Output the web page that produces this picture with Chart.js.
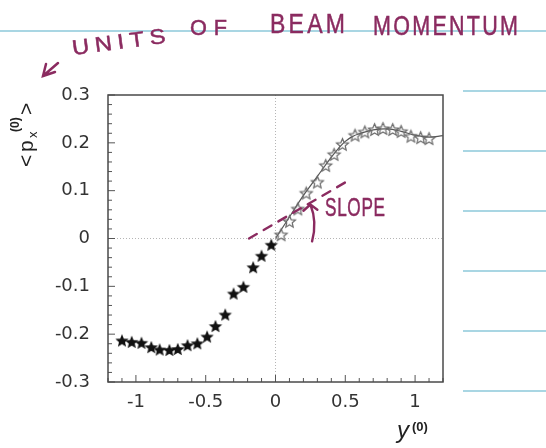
<!DOCTYPE html>
<html>
<head>
<meta charset="utf-8">
<script src="https://cdn.jsdelivr.net/npm/chart.js@4.4.1/dist/chart.umd.min.js"></script>
<style>
  html, body { margin: 0; padding: 0; background: #fff; }
</style>
</head>
<body>
<canvas id="momChart" width="546" height="448"></canvas>
<script>
// filled stars (negative side)
const negX = [-1.1, -1.03, -0.96, -0.89, -0.83, -0.76, -0.7, -0.63, -0.56, -0.49, -0.43, -0.36, -0.3, -0.23, -0.16, -0.1, -0.03];
const negY = [-0.213, -0.216, -0.218, -0.227, -0.232, -0.233, -0.231, -0.223, -0.219, -0.205, -0.183, -0.159, -0.115, -0.101, -0.06, -0.036, -0.013];
// open stars (positive side)
const posX = [0.04, 0.1, 0.16, 0.22, 0.3, 0.36, 0.42, 0.48, 0.57, 0.64, 0.71, 0.77, 0.84, 0.9, 0.97, 1.04, 1.1];
const posY = [0.008, 0.036, 0.062, 0.095, 0.118, 0.153, 0.176, 0.197, 0.216, 0.223, 0.228, 0.23, 0.228, 0.224, 0.214, 0.211, 0.209];
// solid curve through the open stars
const fitX = [0, 0.1, 0.2, 0.3, 0.4, 0.45, 0.5, 0.55, 0.6, 0.7, 0.8, 0.9, 1.0, 1.1, 1.2];
const fitY = [0, 0.045, 0.09, 0.13, 0.17, 0.188, 0.203, 0.213, 0.219, 0.227, 0.229, 0.224, 0.216, 0.212, 0.215];

const xTicks = [-1, -0.5, 0, 0.5, 1];
const yTicks = [-0.3, -0.2, -0.1, 0, 0.1, 0.2, 0.3];

const PURPLE = '#8b2b60';
const BLUE = '#a9d6e3';

function starCanvas(r, fill, stroke) {
  const s = Math.ceil(r * 2 + 4);
  const c = document.createElement('canvas');
  c.width = s; c.height = s;
  const g = c.getContext('2d');
  g.translate(s / 2, s / 2 + r * 0.1);
  g.beginPath();
  for (let i = 0; i < 10; i++) {
    const rr = i % 2 ? r * 0.45 : r;
    const a = -Math.PI / 2 + i * Math.PI / 5;
    g.lineTo(rr * Math.cos(a), rr * Math.sin(a));
  }
  g.closePath();
  if (fill) { g.fillStyle = fill; g.fill(); }
  if (stroke) { g.strokeStyle = stroke; g.lineWidth = 1.2; g.stroke(); }
  return c;
}

const filledStar = starCanvas(7, '#111', null);
const openStar = starCanvas(6.3, null, '#6a6a6a');

// hand-lettered word, squeezed or stretched to a given width
function word(ctx, text, x, y, w, size, spacing, angle) {
  ctx.save();
  ctx.translate(x, y);
  if (angle) ctx.rotate(angle);
  ctx.font = size + 'px "Liberation Sans", sans-serif';
  ctx.letterSpacing = spacing + 'px';
  const m = ctx.measureText(text).width - spacing;
  ctx.scale(w / m, 1);
  ctx.lineWidth = 0.5;
  ctx.fillText(text, 0, 0);
  ctx.strokeText(text, 0, 0);
  ctx.restore();
}

const framePlugin = {
  id: 'frame',
  beforeDraw(chart) {
    const ctx = chart.ctx;
    ctx.save();
    ctx.strokeStyle = BLUE;
    ctx.lineWidth = 2;
    ctx.beginPath();
    ctx.moveTo(0, 31); ctx.lineTo(546, 31);
    [91, 151, 211, 271, 331, 391].forEach(y => { ctx.moveTo(463, y); ctx.lineTo(546, y); });
    ctx.stroke();
    ctx.restore();
  },
  beforeDatasetsDraw(chart) {
    const { ctx, chartArea: a, scales: { x, y } } = chart;
    ctx.save();
    // dotted zero lines
    ctx.strokeStyle = '#b5b5b5';
    ctx.lineWidth = 1;
    ctx.setLineDash([1, 2]);
    ctx.beginPath();
    ctx.moveTo(x.getPixelForValue(0), a.top); ctx.lineTo(x.getPixelForValue(0), a.bottom);
    ctx.moveTo(a.left, y.getPixelForValue(0)); ctx.lineTo(a.right, y.getPixelForValue(0));
    ctx.stroke();
    ctx.setLineDash([]);
    // inside ticks
    ctx.strokeStyle = '#555';
    ctx.beginPath();
    for (let i = -15; i <= 15; i++) {
      const py = y.getPixelForValue(i * 0.02);
      const len = i % 5 === 0 ? 7 : 4;
      ctx.moveTo(a.left, py); ctx.lineTo(a.left + len, py);
    }
    for (let i = -12; i <= 12; i++) {
      const px = x.getPixelForValue(i * 0.1);
      const len = i % 5 === 0 ? 7 : 4;
      ctx.moveTo(px, a.bottom); ctx.lineTo(px, a.bottom - len);
    }
    ctx.stroke();
    // frame
    ctx.strokeStyle = '#4a4a4a';
    ctx.lineWidth = 1.5;
    ctx.strokeRect(a.left, a.top, a.right - a.left, a.bottom - a.top);
    ctx.restore();
  },
  afterDraw(chart) {
    const { ctx, scales: { x, y } } = chart;
    ctx.save();
    // axis titles
    ctx.fillStyle = '#222';
    ctx.font = 'italic 24px "Liberation Sans", sans-serif';
    ctx.fillText('y', 397, 438);
    ctx.font = 'bold 13px "Liberation Sans", sans-serif';
    ctx.fillText('(0)', 412, 431);

    ctx.save();
    ctx.translate(33, 167);
    ctx.rotate(-Math.PI / 2);
    ctx.font = '21px "Liberation Sans", sans-serif';
    ctx.fillText('<', 0, 0);
    ctx.fillText('p', 15, 0);
    ctx.fillText('>', 52, 0);
    ctx.font = '13px "Liberation Sans", sans-serif';
    ctx.fillText('x', 29, 4);
    ctx.font = 'bold 12px "Liberation Sans", sans-serif';
    ctx.fillText('(0)', 35, -14);
    ctx.restore();

    // handwritten notes
    ctx.fillStyle = PURPLE;
    ctx.strokeStyle = PURPLE;
    word(ctx, 'UNITS', 73, 55, 94, 21, 5, -0.13);
    word(ctx, 'OF', 190, 35, 37, 22, 7, 0);
    word(ctx, 'BEAM', 270, 33, 75, 28, 4, 0);
    word(ctx, 'MOMENTUM', 373, 35, 145, 28, 3, 0);
    word(ctx, 'SLOPE', 325, 216, 60, 25, 1, 0);

    ctx.lineWidth = 2.5;
    ctx.lineCap = 'round';
    ctx.beginPath();
    ctx.moveTo(58, 63); ctx.lineTo(43, 76);
    ctx.moveTo(46, 64); ctx.lineTo(43, 76); ctx.lineTo(55, 72);
    ctx.stroke();

    // tangent
    ctx.lineWidth = 2.4;
    ctx.setLineDash([9, 8]);
    ctx.beginPath();
    ctx.moveTo(x.getPixelForValue(-0.19), y.getPixelForValue(0));
    ctx.lineTo(x.getPixelForValue(0.51), y.getPixelForValue(0.119));
    ctx.stroke();
    ctx.setLineDash([]);

    // angle arc with arrow
    ctx.beginPath();
    ctx.moveTo(x.getPixelForValue(0.262), y.getPixelForValue(-0.006));
    ctx.quadraticCurveTo(x.getPixelForValue(0.3), y.getPixelForValue(0.035),
                         x.getPixelForValue(0.25), y.getPixelForValue(0.071));
    ctx.moveTo(x.getPixelForValue(0.2), y.getPixelForValue(0.058));
    ctx.lineTo(x.getPixelForValue(0.25), y.getPixelForValue(0.071));
    ctx.lineTo(x.getPixelForValue(0.3), y.getPixelForValue(0.06));
    ctx.stroke();
    ctx.restore();
  }
};

const tickFont = { family: '"DejaVu Sans", sans-serif', size: 18 };

new Chart(document.getElementById('momChart'), {
  type: 'scatter',
  data: {
    datasets: [
      {
        label: 'filled',
        data: negX.map((v, i) => ({ x: v, y: negY[i] })),
        pointStyle: filledStar
      },
      {
        label: 'open',
        data: posX.map((v, i) => ({ x: v, y: posY[i] })),
        pointStyle: openStar
      },
      {
        label: 'fit',
        data: fitX.map((v, i) => ({ x: v, y: fitY[i] })),
        showLine: true,
        borderColor: '#555',
        borderWidth: 1.2,
        pointRadius: 0,
        tension: 0.4
      }
    ]
  },
  options: {
    responsive: false,
    animation: false,
    devicePixelRatio: 1,
    layout: { padding: { left: 0, top: 95, right: 103, bottom: 0 } },
    plugins: { legend: { display: false }, tooltip: { enabled: false } },
    scales: {
      x: {
        type: 'linear',
        min: -1.2,
        max: 1.2,
        afterBuildTicks: s => { s.ticks = xTicks.map(v => ({ value: v })); },
        afterFit: s => { s.height = 66; },
        grid: { display: false, drawTicks: false },
        border: { display: false },
        ticks: { padding: 10, color: '#333', font: tickFont, maxRotation: 0, callback: v => String(v) }
      },
      y: {
        min: -0.3,
        max: 0.3,
        afterBuildTicks: s => { s.ticks = yTicks.map(v => ({ value: v })); },
        afterFit: s => { s.width = 108; },
        grid: { display: false, drawTicks: false },
        border: { display: false },
        ticks: { padding: 18, color: '#333', font: tickFont, callback: v => String(v) }
      }
    }
  },
  plugins: [framePlugin]
});
</script>
</body>
</html>
